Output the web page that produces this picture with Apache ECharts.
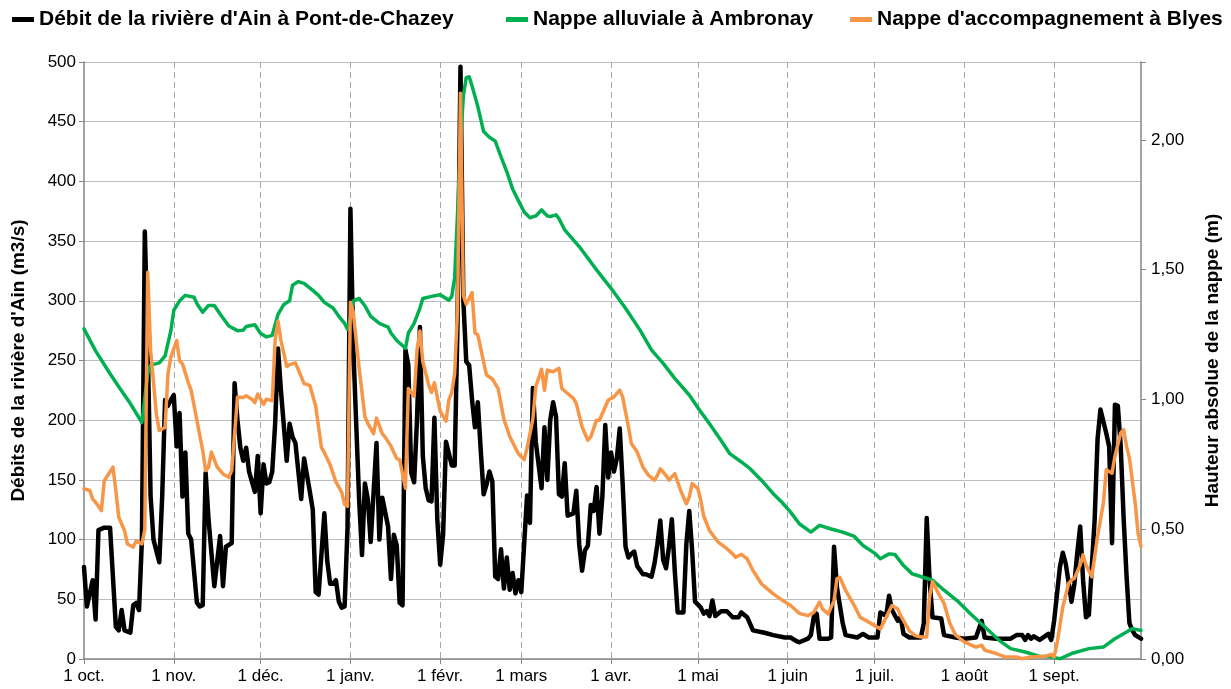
<!DOCTYPE html>
<html>
<head>
<meta charset="utf-8">
<script src="https://cdn.jsdelivr.net/npm/echarts@6/dist/echarts.min.js"></script>
<style>
  html, body { margin: 0; padding: 0; background: #ffffff; }
  #chart { width: 1231px; height: 689px; }
</style>
</head>
<body>
<div id="chart"></div>
<script>
// Hydrological year: day 0 = 1 oct., day 365 = 1 oct. of the following year
const monthStartDays = [0, 31, 61, 92, 123, 151, 182, 212, 243, 273, 304, 335];
const monthLabels = ['1 oct.', '1 nov.', '1 déc.', '1 janv.', '1 févr.', '1 mars', '1 avr.', '1 mai', '1 juin', '1 juil.', '1 août', '1 sept.'];
const lastDay = 365;

const seriesNames = [
  "Débit de la rivière d'Ain à Pont-de-Chazey",
  'Nappe alluviale à Ambronay',
  "Nappe d'accompagnement à Blyes"
];

// River discharge (m3/s), [day, value]
const debit = [
  [0,77],[1,44],[3,66],[4,33],[5,108],[7,110],[9,110],[11,27],[12,24],[13,41],[14,24],[16,22],[17,45],[18,47],[19,41],
  [20,100],[21,358],[22,265],[23,136],[24,100],[26,81],[27,136],[28,217],[29,212],[30,217],[31,221],[32,178],[33,206],
  [34,136],[35,173],[36,105],[37,100],[39,47],[40,44],[41,45],[42,156],[43,117],[45,61],[47,103],[48,61],[49,94],[51,97],
  [52,231],[53,200],[54,177],[55,166],[56,177],[57,157],[59,140],[60,170],[61,122],[62,163],[63,147],[64,148],[65,157],
  [66,197],[67,260],[68,225],[70,166],[71,197],[72,186],[73,181],[75,134],[76,168],[78,140],[79,125],[80,56],[81,54],
  [83,122],[84,82],[85,63],[86,63],[87,66],[88,48],[89,43],[90,44],[91,110],[92,377],[93,260],[95,134],[96,87],[97,147],
  [98,134],[99,98],[101,181],[102,100],[103,135],[105,111],[106,67],[107,104],[108,95],[109,47],[110,45],[111,259],
  [112,246],[113,156],[114,148],[115,201],[116,278],[117,170],[118,143],[119,133],[120,132],[121,202],[122,117],[123,79],
  [124,104],[125,182],[126,172],[127,162],[128,162],[129,284],[130,496],[131,300],[132,249],[133,246],[134,217],[135,194],
  [136,215],[137,175],[138,138],[139,146],[140,157],[141,149],[142,69],[143,67],[144,92],[145,59],[146,85],[147,58],
  [148,72],[149,55],[150,66],[151,56],[153,137],[154,114],[155,227],[156,182],[158,143],[159,194],[160,150],[161,200],
  [162,215],[163,203],[164,138],[165,136],[166,164],[167,120],[169,122],[170,141],[171,96],[172,74],[173,91],[174,95],
  [175,129],[176,124],[177,144],[178,105],[179,136],[180,196],[181,152],[182,173],[183,157],[184,168],[185,193],[186,147],
  [187,94],[188,85],[189,88],[190,90],[191,78],[193,71],[194,71],[196,69],[197,80],[198,96],[199,116],[200,83],[201,76],
  [202,94],[203,117],[204,74],[205,39],[207,39],[208,96],[209,124],[210,91],[211,48],[213,43],[214,38],[215,40],[216,36],
  [217,49],[218,36],[220,40],[222,40],[224,35],[226,35],[227,39],[229,35],[231,24],[235,22],[238,20],[242,18],[244,18],
  [246,15],[247,14],[250,17],[251,20],[252,35],[253,38],[254,17],[257,17],[258,18],[259,94],[260,60],[262,30],[263,20],
  [267,18],[269,21],[271,18],[274,18],[275,39],[277,36],[278,53],[279,41],[281,32],[282,35],[283,21],[285,18],[289,18],
  [290,30],[291,118],[292,66],[293,35],[296,34],[297,20],[301,18],[304,17],[308,18],[310,32],[311,18],[315,17],[320,17],
  [322,20],[324,20],[325,16],[326,20],[327,17],[328,19],[330,16],[333,21],[334,16],[335,32],[337,77],[338,89],[339,80],
  [341,48],[342,63],[343,89],[344,111],[345,66],[346,35],[347,37],[348,77],[349,117],[350,184],[351,209],[353,189],
  [354,178],[355,97],[356,213],[357,212],[358,178],[359,118],[360,70],[361,30],[362,24],[363,20],[365,17]
];

// Groundwater level at Ambronay (m), [day, value]
const ambronay = [
  [0,1.272],[4,1.187],[9,1.099],[12,1.049],[16,0.984],[20,0.911],[22,1.10],[23,1.132],[26,1.141],[28,1.168],[30,1.265],
  [31,1.343],[33,1.38],[35,1.401],[38,1.394],[39,1.369],[41,1.336],[43,1.362],[45,1.362],[47,1.329],[50,1.283],[53,1.265],
  [55,1.267],[56,1.281],[59,1.288],[61,1.254],[63,1.241],[65,1.247],[67,1.328],[69,1.366],[71,1.38],[72,1.44],[74,1.454],
  [76,1.447],[79,1.42],[81,1.401],[83,1.374],[86,1.352],[88,1.32],[90,1.293],[91,1.27],[92,1.314],[93,1.38],[95,1.389],
  [97,1.361],[99,1.32],[102,1.293],[105,1.279],[106,1.256],[108,1.227],[111,1.197],[112,1.256],[114,1.293],[116,1.352],
  [117,1.389],[120,1.397],[123,1.403],[126,1.382],[127,1.397],[128,1.47],[129,1.72],[130,1.98],[131,2.17],[132,2.24],
  [133,2.243],[134,2.208],[136,2.128],[138,2.032],[140,2.01],[142,1.995],[144,1.935],[146,1.877],[148,1.811],[150,1.766],
  [152,1.722],[154,1.70],[156,1.707],[158,1.73],[160,1.707],[161,1.705],[163,1.711],[164,1.697],[166,1.653],[171,1.589],
  [177,1.499],[182,1.428],[187,1.351],[192,1.267],[196,1.19],[200,1.139],[204,1.081],[209,1.017],[213,0.952],[216,0.906],
  [220,0.842],[223,0.791],[227,0.759],[230,0.733],[234,0.688],[238,0.637],[241,0.604],[244,0.566],[247,0.521],[251,0.489],
  [254,0.515],[258,0.501],[262,0.489],[266,0.472],[269,0.437],[273,0.408],[275,0.386],[278,0.405],[280,0.403],[283,0.36],
  [286,0.328],[290,0.314],[293,0.304],[297,0.265],[302,0.22],[306,0.175],[311,0.124],[316,0.072],[320,0.04],[325,0.027],
  [330,0.01],[333,0.01],[337,0.001],[341,0.021],[347,0.04],[352,0.046],[356,0.078],[360,0.104],[362,0.117],[365,0.11]
];

// Groundwater level at Blyes (m), [day, value]
const blyes = [
  [0,0.656],[2,0.649],[3,0.616],[4,0.604],[6,0.572],[7,0.687],[10,0.739],[11,0.649],[12,0.546],[14,0.495],[15,0.443],
  [17,0.431],[18,0.455],[20,0.443],[21,0.50],[22,1.49],[23,1.19],[25,0.943],[26,0.88],[28,0.892],[29,1.099],[30,1.163],
  [32,1.227],[33,1.15],[34,1.137],[36,1.066],[37,1.035],[39,0.919],[41,0.803],[42,0.726],[43,0.739],[44,0.797],[46,0.739],
  [48,0.713],[50,0.70],[51,0.726],[53,1.009],[55,1.007],[56,1.014],[58,1.001],[59,0.988],[60,1.021],[62,0.981],[63,1.001],
  [65,0.995],[66,1.228],[67,1.301],[68,1.228],[70,1.127],[71,1.134],[73,1.141],[74,1.115],[76,1.061],[78,1.054],[80,0.975],
  [82,0.814],[83,0.795],[85,0.748],[87,0.682],[89,0.642],[90,0.595],[91,0.588],[92,1.374],[93,1.334],[95,1.121],[97,0.934],
  [98,0.908],[100,0.868],[101,0.928],[103,0.868],[104,0.855],[106,0.82],[108,0.772],[109,0.768],[111,0.658],[112,1.042],
  [114,1.012],[115,1.19],[116,1.264],[117,1.145],[119,1.057],[120,1.027],[121,1.064],[123,0.954],[125,0.916],[126,0.998],
  [127,1.027],[128,1.101],[129,1.35],[130,2.18],[131,1.40],[132,1.367],[134,1.412],[135,1.256],[136,1.249],[138,1.145],
  [139,1.094],[141,1.079],[143,1.042],[145,0.924],[147,0.857],[150,0.791],[152,0.768],[153,0.813],[155,0.924],[156,1.049],
  [158,1.116],[159,1.035],[160,1.113],[162,1.107],[164,1.12],[165,1.042],[167,1.023],[169,1.004],[170,0.984],[172,0.894],
  [174,0.843],[175,0.856],[177,0.92],[178,0.92],[179,0.946],[181,0.997],[182,1.004],[183,1.01],[185,1.036],[186,1.01],
  [188,0.894],[189,0.83],[191,0.798],[193,0.74],[195,0.707],[197,0.689],[198,0.707],[199,0.733],[201,0.707],[202,0.689],
  [204,0.714],[206,0.65],[208,0.598],[209,0.624],[210,0.676],[212,0.656],[213,0.61],[214,0.55],[216,0.495],[219,0.45],
  [222,0.425],[224,0.405],[225,0.392],[227,0.403],[229,0.386],[231,0.341],[234,0.289],[238,0.251],[241,0.228],[244,0.206],
  [247,0.176],[250,0.167],[252,0.18],[254,0.219],[255,0.193],[257,0.174],[259,0.225],[260,0.309],[261,0.315],[263,0.264],
  [266,0.206],[268,0.161],[271,0.142],[275,0.116],[277,0.161],[279,0.206],[281,0.193],[282,0.167],[285,0.109],[287,0.09],
  [289,0.085],[291,0.085],[292,0.239],[293,0.298],[295,0.253],[297,0.214],[299,0.137],[301,0.092],[304,0.066],[308,0.046],
  [310,0.053],[311,0.034],[315,0.021],[318,0.008],[322,0.008],[324,0.001],[327,0.008],[330,0.01],[332,0.01],[334,0.018],
  [335,0.008],[336,0.059],[338,0.201],[340,0.291],[341,0.304],[342,0.311],[344,0.362],[345,0.401],[346,0.362],[348,0.317],
  [350,0.472],[352,0.60],[353,0.729],[355,0.716],[356,0.781],[358,0.871],[359,0.884],[360,0.82],[361,0.774],[363,0.60],
  [364,0.484],[365,0.433]
];

const FONT = "'Liberation Sans', Arial, sans-serif";
const AXIS_GREY = '#868686';
const days = [];
for (let d = 0; d <= lastDay; d++) days.push(String(d));
const isMonthStart = (i) => monthStartDays.indexOf(i) !== -1;

const chart = echarts.init(document.getElementById('chart'), null, { renderer: 'canvas' });

const legendBase = {
  top: 9,
  padding: 0,
  icon: 'rect',
  itemWidth: 22,
  itemHeight: 5,
  textStyle: { fontFamily: FONT, fontWeight: 'bold', fontSize: 21, color: '#000' }
};

chart.setOption({
  animation: false,
  backgroundColor: '#ffffff',
  textStyle: { fontFamily: FONT },
  legend: [
    Object.assign({ left: 12, data: [seriesNames[0]] }, legendBase),
    Object.assign({ left: 506, data: [seriesNames[1]] }, legendBase),
    Object.assign({ left: 850, data: [seriesNames[2]] }, legendBase)
  ],
  grid: { left: 84, right: 90, top: 62, bottom: 30, containLabel: false },
  xAxis: {
    type: 'category',
    data: days,
    boundaryGap: false,
    axisLine: { lineStyle: { color: AXIS_GREY, width: 1.5 } },
    axisTick: { show: true, interval: (i) => isMonthStart(i), length: 5, lineStyle: { color: AXIS_GREY } },
    axisLabel: {
      interval: (i) => isMonthStart(i),
      formatter: (v, i) => monthLabels[monthStartDays.indexOf(i)] || '',
      color: '#000', fontSize: 17, fontFamily: FONT, margin: 9
    },
    splitLine: {
      show: true,
      interval: (i) => isMonthStart(i) && i > 0,
      lineStyle: { color: '#A6A6A6', width: 1, type: [6, 4] }
    }
  },
  yAxis: [
    {
      type: 'value',
      min: 0, max: 500, interval: 50,
      name: "Débits de la rivière d'Ain (m3/s)",
      nameLocation: 'middle',
      nameGap: 56,
      nameTextStyle: { fontFamily: FONT, fontWeight: 'bold', fontSize: 19, color: '#000' },
      axisLine: { show: true, lineStyle: { color: AXIS_GREY, width: 1.5 } },
      axisTick: { show: true, length: 5, lineStyle: { color: AXIS_GREY } },
      axisLabel: { color: '#000', fontSize: 17, fontFamily: FONT, margin: 8 },
      splitLine: { show: true, lineStyle: { color: '#BDBDBD', width: 1.2 } }
    },
    {
      type: 'value',
      position: 'right',
      min: 0, max: 2.3, interval: 0.5,
      name: 'Hauteur absolue de la nappe (m)',
      nameLocation: 'middle',
      nameRotate: 90,
      nameGap: 62,
      nameTextStyle: { fontFamily: FONT, fontWeight: 'bold', fontSize: 19, color: '#000' },
      axisLine: { show: true, lineStyle: { color: AXIS_GREY, width: 1.5 } },
      axisTick: { show: true, length: 5, lineStyle: { color: AXIS_GREY } },
      axisLabel: {
        color: '#000', fontSize: 17, fontFamily: FONT, margin: 10,
        formatter: (v) => (Math.abs(v / 0.5 - Math.round(v / 0.5)) < 1e-6 ? v.toFixed(2).replace('.', ',') : '')
      },
      splitLine: { show: false }
    }
  ],
  series: [
    {
      name: seriesNames[0], type: 'line', yAxisIndex: 0, data: debit,
      symbol: 'none', color: '#000000',
      lineStyle: { width: 4.5, color: '#000000', join: 'round', cap: 'round' }, z: 2
    },
    {
      name: seriesNames[1], type: 'line', yAxisIndex: 1, data: ambronay,
      symbol: 'none', color: '#00B050',
      lineStyle: { width: 3.5, color: '#00B050', join: 'round', cap: 'round' }, z: 3
    },
    {
      name: seriesNames[2], type: 'line', yAxisIndex: 1, data: blyes,
      symbol: 'none', color: '#F79646',
      lineStyle: { width: 3.5, color: '#F79646', join: 'round', cap: 'round' }, z: 4
    }
  ]
});
</script>
</body>
</html>
